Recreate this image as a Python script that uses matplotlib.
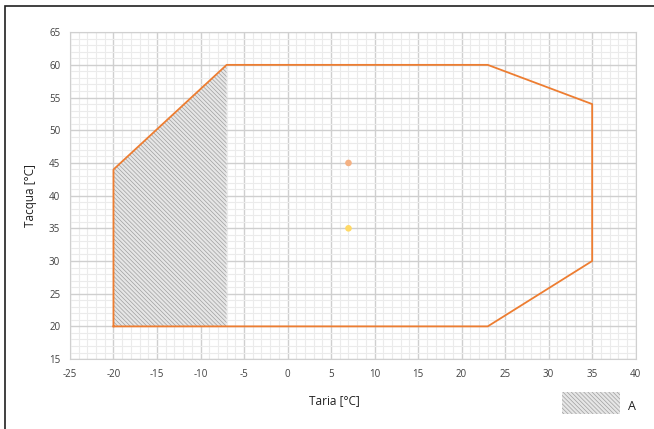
import matplotlib
matplotlib.use("Agg")
import matplotlib.pyplot as plt
from matplotlib.patches import Rectangle
import numpy as np

plt.rcParams["font.family"] = ["Open Sans", "DejaVu Sans"]
plt.rcParams["axes.unicode_minus"] = False
plt.rcParams["hatch.linewidth"] = 0.5

# operating envelope
env_x = [-20, -20, -7, 23, 35, 35, 23, -20]
env_y = [20, 44, 60, 60, 54, 30, 20, 20]
# hatched zone A
zone_x = [-20, -20, -7, -7]
zone_y = [20, 44, 60, 20]
# points
pt_x = [7, 7]
pt_y = [45, 35]
pt_colors = ["#f4b183", "#ffd966"]

xticks = np.arange(-25, 41, 5)
yticks = np.arange(15, 66, 5)

fig = plt.figure(figsize=(6.54, 4.29), dpi=100)
ax = fig.add_axes([0.107, 0.163, 0.865, 0.762])

ax.fill(zone_x, zone_y, facecolor="#e6e6e6", edgecolor="#a0a0a0",
        hatch="\\\\\\\\\\\\\\\\", linewidth=0, zorder=2)
ax.plot(env_x, env_y, color="#ed7d31", linewidth=1.3, zorder=3)
ax.scatter(pt_x, pt_y, c=pt_colors, s=14, zorder=4)

ax.set_xlim(-25, 40)
ax.set_ylim(15, 65)
ax.set_xticks(xticks)
ax.set_yticks(yticks)
ax.set_xticks(np.arange(-25, 41, 1), minor=True)
ax.set_yticks(np.arange(15, 66, 1), minor=True)
ax.grid(which="major", color="#cfcfcf", linewidth=1.0, zorder=0)
ax.grid(which="minor", color="#ebebeb", linewidth=0.8, zorder=0)
ax.set_axisbelow(True)
ax.tick_params(which="both", length=0, labelsize=7, colors="#404040", pad=7)
for s in ax.spines.values():
    s.set_color("#d0d0d0")

fig.text(0.512, 0.067, "Taria [°C]", ha="center", va="center", fontsize=8.5, color="#202020")
fig.text(0.046, 0.545, "Tacqua [°C]", ha="center", va="center", rotation=90,
         fontsize=8.5, color="#202020")

# legend
fig.patches.append(Rectangle((562 / 654, 1 - 414 / 429), 58 / 654, 22 / 429,
                             transform=fig.transFigure, facecolor="#e6e6e6",
                             edgecolor="#a0a0a0", hatch="\\\\\\\\\\\\\\\\", linewidth=0))
fig.text(632 / 654, 1 - 406 / 429, "A", ha="center", va="center", fontsize=9, color="#202020")

# outer frame
fig.patches.append(Rectangle((5 / 654, -0.1), 1.2, 1 - 6 / 429 + 0.1,
                             transform=fig.transFigure, fill=False,
                             edgecolor="#202020", linewidth=1.2))

fig.savefig("out.png", dpi=100)
